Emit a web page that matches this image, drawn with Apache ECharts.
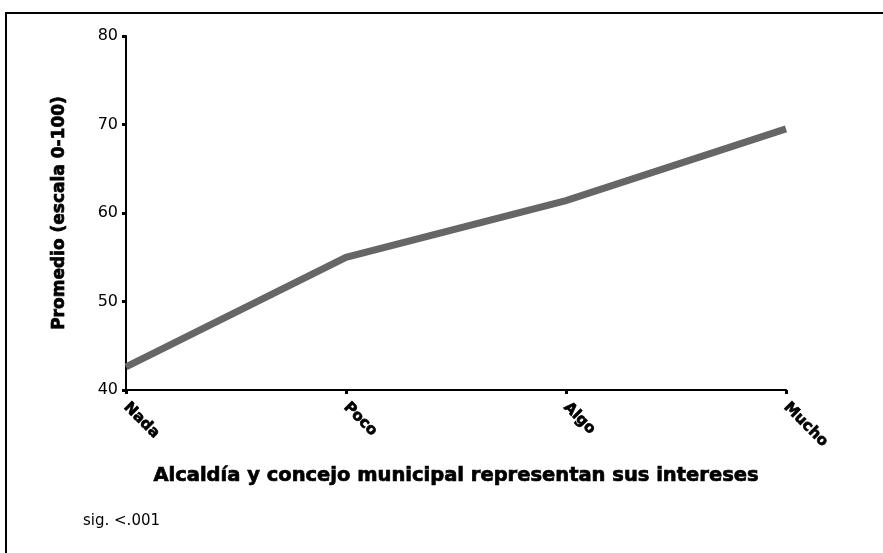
<!DOCTYPE html>
<html>
<head>
<meta charset="utf-8">
<script src="https://cdn.jsdelivr.net/npm/echarts@6/dist/echarts.min.js"></script>
<style>
html,body{margin:0;padding:0;background:#fff;}
#c{width:883px;height:553px;}
</style>
</head>
<body>
<div id="c"></div>
<script>
const categories = ['Nada', 'Poco', 'Algo', 'Mucho'];
const values = [42.6, 55.0, 61.4, 69.5];
const yTicks = [40, 50, 60, 70, 80];
const xAxisTitle = 'Alcaldía y concejo municipal representan sus intereses';
const yAxisTitle = 'Promedio (escala 0-100)';
const note = 'sig. <.001';

const chart = echarts.init(document.getElementById('c'), null, {renderer: 'canvas'});
const font = '"DejaVu Sans", "Liberation Sans", Arial, sans-serif';
const heavy = {textBorderColor: '#000', textBorderWidth: 0.7};
chart.setOption({
  animation: false,
  backgroundColor: '#fff',
  grid: {left: 126, right: 97, top: 36, bottom: 163, containLabel: false},
  xAxis: {
    type: 'category',
    data: categories,
    boundaryGap: false,
    name: xAxisTitle,
    nameLocation: 'middle',
    nameGap: 76,
    nameTextStyle: Object.assign({fontFamily: font, fontWeight: 'bold', fontSize: 19.5, color: '#000'}, heavy),
    axisLine: {lineStyle: {color: '#000', width: 2}},
    axisTick: {show: true, alignWithLabel: true, length: 4, lineStyle: {color: '#000', width: 3}},
    axisLabel: Object.assign({rotate: -45, margin: 15, fontFamily: font, fontWeight: 'bold', fontSize: 15, color: '#000'}, heavy),
    splitLine: {show: false}
  },
  yAxis: {
    type: 'value',
    min: yTicks[0],
    max: yTicks[yTicks.length - 1],
    interval: 10,
    name: yAxisTitle,
    nameLocation: 'middle',
    nameGap: 58,
    nameTextStyle: Object.assign({fontFamily: font, fontWeight: 'bold', fontSize: 17, color: '#000'}, heavy),
    axisLine: {show: true, lineStyle: {color: '#000', width: 2}},
    axisTick: {show: true, length: 4, lineStyle: {color: '#000', width: 3}},
    axisLabel: {margin: 8, fontFamily: font, fontSize: 16, color: '#000'},
    splitLine: {show: false}
  },
  series: [{
    type: 'line',
    data: values,
    symbol: 'none',
    lineStyle: {color: '#666666', width: 7, cap: 'butt', join: 'miter'}
  }],
  graphic: [
    {type: 'rect', shape: {x: 6, y: 13, width: 900, height: 600}, style: {fill: 'none', stroke: '#000', lineWidth: 2}, silent: true},
    {type: 'text', left: 83, top: 514, style: {text: note, fontFamily: font, fontSize: 15, fill: '#000'}}
  ]
});
</script>
</body>
</html>
